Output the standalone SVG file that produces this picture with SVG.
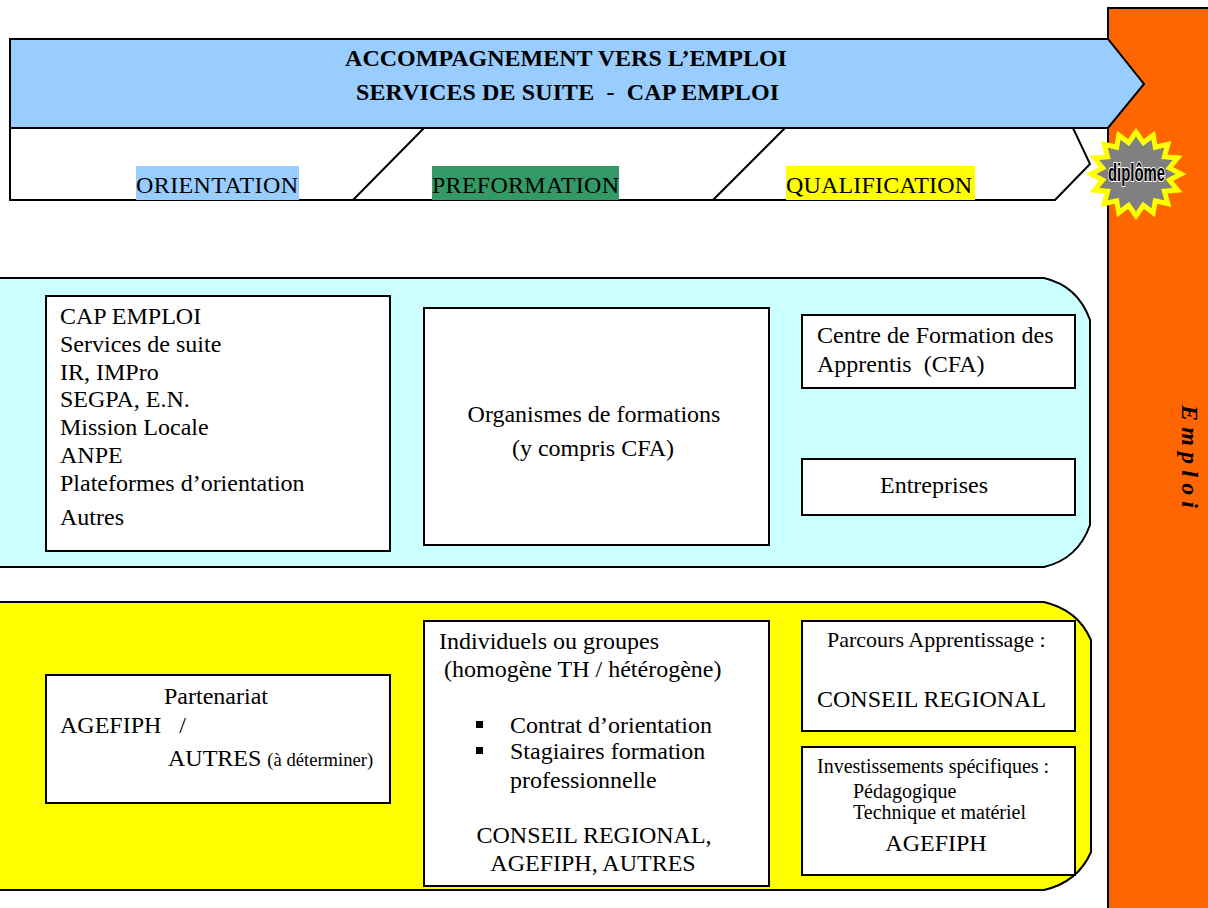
<svg xmlns="http://www.w3.org/2000/svg" width="1208" height="908" viewBox="0 0 1208 908">
<style>
text{font-family:"Liberation Serif","Times New Roman",serif;font-size:24px;fill:#000}
.b{fill:#fff;stroke:#000;stroke-width:2}
.l{fill:none;stroke:#000;stroke-width:2}
.m{text-anchor:middle}
.s{font-size:20px}
.t{font-weight:bold}
</style>
<rect width="1208" height="908" fill="#fff"/>
<g id="emploi-bar">
<rect x="1108" y="8" width="110" height="920" fill="#ff6600" stroke="#000" stroke-width="2"/>
<text transform="translate(1182 405) rotate(90)" font-weight="bold" font-style="italic" letter-spacing="6.2">Emploi</text>
</g>
<g id="accompagnement">
<polygon points="10,39 1108,39 1144,84 1108,128 10,128" fill="#99ccff" stroke="#000" stroke-width="2"/>
<text class="t m" x="566" y="66">ACCOMPAGNEMENT VERS L’EMPLOI</text>
<text class="t m" x="567.5" y="100" xml:space="preserve" textLength="423">SERVICES DE SUITE  -  CAP EMPLOI</text>
</g>
<g id="etapes">
<polygon points="10,128 1073,128 1090,164 1055,200 10,200" fill="#fff" stroke="#000" stroke-width="2"/>
<rect x="136" y="166" width="163" height="34" fill="#99ccff"/>
<rect x="432" y="166" width="187" height="34" fill="#339966"/>
<rect x="786" y="166" width="189" height="34" fill="#ffff00"/>
<text x="136" y="193" textLength="162">ORIENTATION</text>
<text x="432" y="193" textLength="187">PREFORMATION</text>
<text x="786" y="193" textLength="186">QUALIFICATION</text>
</g>
<g id="connectors">
<line class="l" x1="353" y1="200" x2="424" y2="128"/>
<line class="l" x1="713" y1="200" x2="785" y2="128"/>
</g>
<g id="diplome" transform="translate(1136 174)">
<polygon points="45,0 33.4,6 41.6,16.1 28.4,17.2 31.8,29.7 19.3,26.8 17.2,38.8 7.4,31.4 0,42 -7.4,31.4 -17.2,38.8 -19.3,26.8 -31.8,29.7 -28.4,17.2 -41.6,16.1 -33.4,6 -45,0 -33.4,-6 -41.6,-16.1 -28.4,-17.2 -31.8,-29.7 -19.3,-26.8 -17.2,-38.8 -7.4,-31.4 0,-42 7.4,-31.4 17.2,-38.8 19.3,-26.8 31.8,-29.7 28.4,-17.2 41.6,-16.1 33.4,-6" fill="#808080" stroke="#ffff00" stroke-width="5"/>
<text x="0.5" y="7" text-anchor="middle" textLength="57" lengthAdjust="spacingAndGlyphs" stroke="#fff" stroke-width="2" paint-order="stroke" font-weight="bold" style="font-family:'Liberation Sans',Arial,sans-serif;font-size:23px">diplôme</text>
</g>
<g id="panel-cyan">
<path d="M-5,278H1044Q1078,286 1090,320V525Q1078,559 1044,567H-5Z" fill="#ccffff" stroke="#000" stroke-width="2"/>
</g>
<g id="panel-jaune">
<path d="M-5,602H1044Q1078,610 1091,640V852Q1078,882 1044,890H-5Z" fill="#ffff00" stroke="#000" stroke-width="2"/>
</g>
<g id="prescripteurs">
<rect class="b" x="46" y="296" width="344" height="255"/>
<text x="60" y="324">CAP EMPLOI</text>
<text x="60" y="352">Services de suite</text>
<text x="60" y="380">IR, IMPro</text>
<text x="60" y="407">SEGPA, E.N.</text>
<text x="60" y="435">Mission Locale</text>
<text x="60" y="463">ANPE</text>
<text x="60" y="491">Plateformes d’orientation</text>
<text x="60" y="525">Autres</text>
</g>
<g id="organismes">
<rect class="b" x="424" y="308" width="345" height="237"/>
<text class="m" x="594" y="422">Organismes de formations</text>
<text class="m" x="593" y="456">(y compris CFA)</text>
</g>
<g id="cfa">
<rect class="b" x="802" y="315" width="273" height="73"/>
<text x="817" y="343">Centre de Formation des</text>
<text x="817" y="372" xml:space="preserve">Apprentis  (CFA)</text>
</g>
<g id="entreprises">
<rect class="b" x="802" y="459" width="273" height="56"/>
<text class="m" x="934" y="493">Entreprises</text>
</g>
<g id="partenariat">
<rect class="b" x="46" y="675" width="344" height="128"/>
<text x="164" y="704">Partenariat</text>
<text x="60" y="733" xml:space="preserve">AGEFIPH   /</text>
<text x="168" y="766">AUTRES <tspan style="font-size:18.6px">(à déterminer)</tspan></text>
</g>
<g id="individuels">
<rect class="b" x="424" y="621" width="345" height="265"/>
<text x="439" y="649">Individuels ou groupes</text>
<text x="444" y="677">(homogène TH / hétérogène)</text>
<rect x="476" y="721" width="7" height="7"/>
<rect x="476" y="747" width="7" height="7"/>
<text x="510" y="733">Contrat d’orientation</text>
<text x="510" y="759">Stagiaires formation</text>
<text x="510" y="788">professionnelle</text>
<text class="m" x="594" y="843">CONSEIL REGIONAL,</text>
<text class="m" x="593" y="871">AGEFIPH, AUTRES</text>
</g>
<g id="apprentissage">
<rect class="b" x="802" y="621" width="273" height="110"/>
<text x="827" y="647" style="font-size:22px">Parcours Apprentissage :</text>
<text x="817" y="707">CONSEIL REGIONAL</text>
</g>
<g id="investissements">
<rect class="b" x="802" y="747" width="273" height="128"/>
<text class="s" x="817" y="773">Investissements spécifiques :</text>
<text class="s" x="853" y="798">Pédagogique</text>
<text class="s" x="853" y="819">Technique et matériel</text>
<text class="m" x="936" y="851">AGEFIPH</text>
</g>
</svg>
